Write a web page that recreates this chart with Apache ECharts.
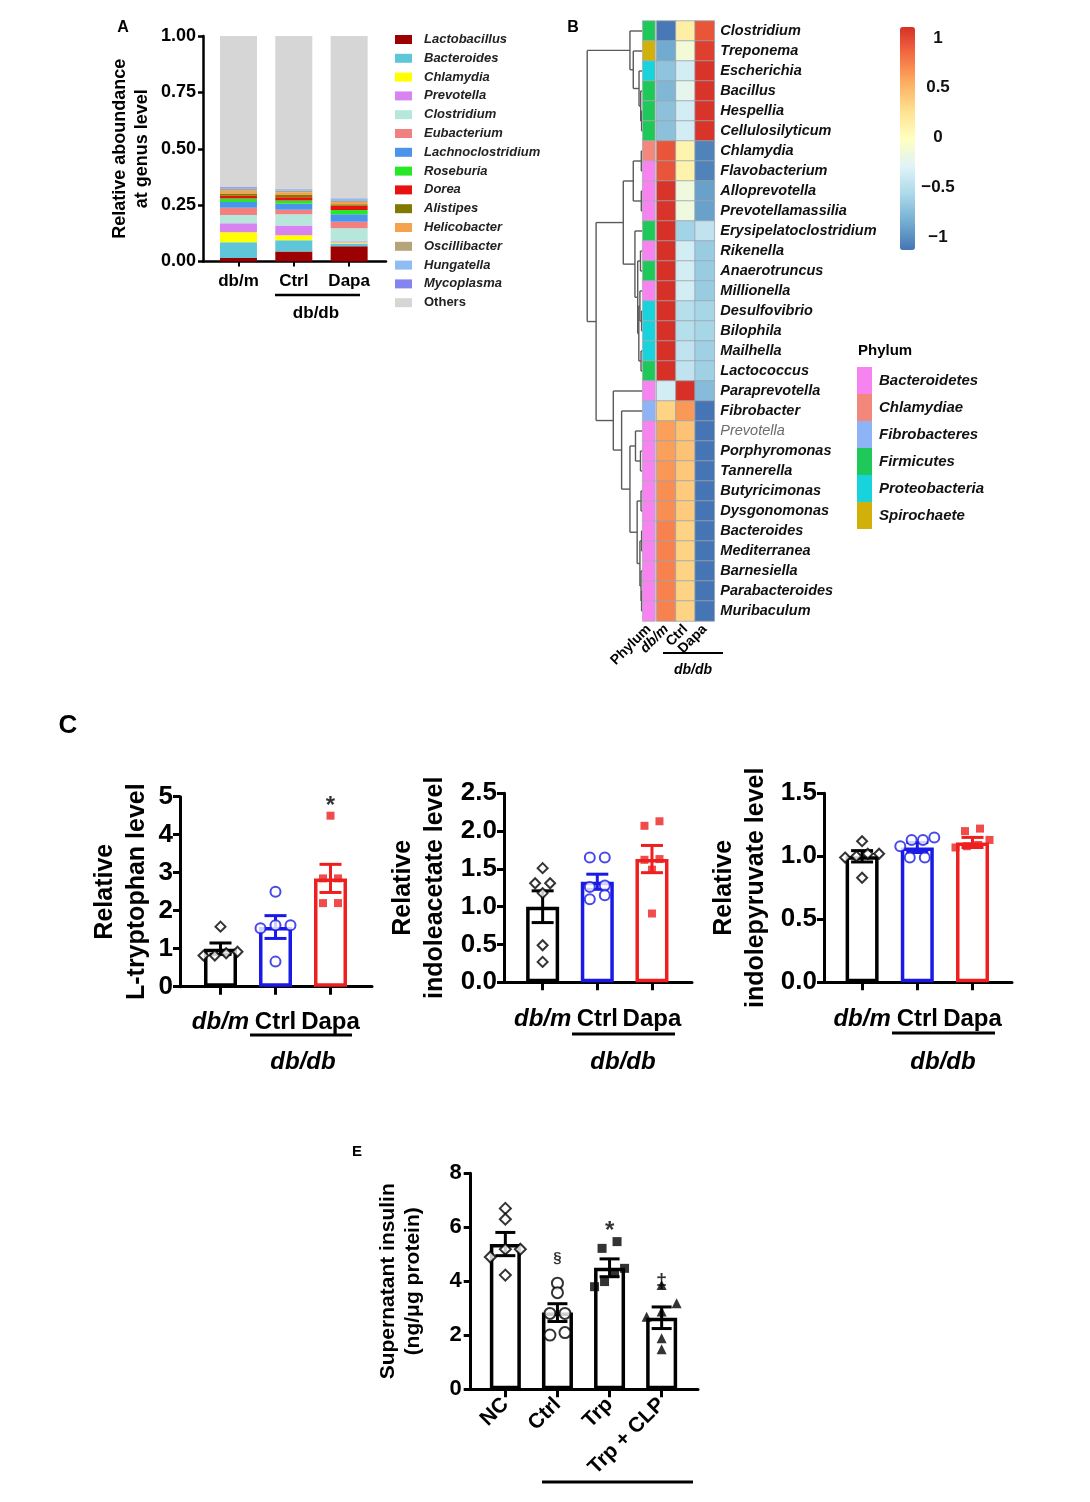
<!DOCTYPE html>
<html><head><meta charset="utf-8">
<script src="https://cdn.jsdelivr.net/npm/echarts@6/dist/echarts.min.js"></script>
<style>html,body{margin:0;padding:0;background:#fff}#c{width:1090px;height:1502px}</style>
</head><body><div id="c"></div>
<script>
// ================= DATA =================
// Panel A : stacked relative abundance
const abCategories = ['db/m', 'Ctrl', 'Dapa'];
const genusNames = ['Lactobacillus','Bacteroides','Chlamydia','Prevotella','Clostridium','Eubacterium','Lachnoclostridium','Roseburia','Dorea','Alistipes','Helicobacter','Oscillibacter','Hungatella','Mycoplasma','Others'];
const genusColors = ['#9c0000','#5ec6d8','#ffff00','#d884f0','#b5e8da','#f28080','#4a94ec','#27e827','#e81010','#807a00','#f5a24d','#b5a47a','#8fbcf2','#8484f0','#d6d6d6'];
const abund_dbm  = [0.015,0.070,0.045,0.040,0.036,0.032,0.026,0.015,0.013,0.009,0.013,0.007,0.006,0.003,0.670];
const abund_ctrl = [0.044,0.050,0.022,0.044,0.049,0.020,0.027,0.015,0.014,0.010,0.012,0.007,0.006,0.003,0.677];
const abund_dapa = [0.068,0.012,0.004,0.006,0.058,0.028,0.034,0.018,0.019,0.007,0.010,0.004,0.010,0.003,0.719];

// Panel B : heatmap
const heatGroups = ['db/m', 'Ctrl', 'Dapa'];
const heatGenera = ['Clostridium','Treponema','Escherichia','Bacillus','Hespellia','Cellulosilyticum','Chlamydia','Flavobacterium','Alloprevotella','Prevotellamassilia','Erysipelatoclostridium','Rikenella','Anaerotruncus','Millionella','Desulfovibrio','Bilophila','Mailhella','Lactococcus','Paraprevotella','Fibrobacter','Prevotella','Porphyromonas','Tannerella','Butyricimonas','Dysgonomonas','Bacteroides','Mediterranea','Barnesiella','Parabacteroides','Muribaculum'];
const heat_dbm  = [-1.10,-0.85,-0.70,-0.78,-0.72,-0.72,0.95,0.95,1.10,1.10,1.15,1.15,1.15,1.15,1.15,1.15,1.15,1.15,-0.35,0.35,0.62,0.62,0.66,0.70,0.70,0.75,0.75,0.75,0.75,0.75];
const heat_ctrl = [0.15,-0.12,-0.35,-0.22,-0.35,-0.35,0.10,0.12,-0.15,-0.15,-0.60,-0.35,-0.35,-0.35,-0.50,-0.50,-0.45,-0.45,1.15,0.65,0.45,0.45,0.42,0.40,0.40,0.35,0.35,0.35,0.35,0.35];
const heat_dapa = [0.95,1.05,1.10,1.10,1.10,1.10,-1.05,-1.05,-0.90,-0.90,-0.45,-0.65,-0.65,-0.65,-0.58,-0.58,-0.62,-0.62,-0.75,-1.12,-1.12,-1.12,-1.12,-1.12,-1.12,-1.12,-1.12,-1.12,-1.12,-1.12];
const phylumNames = ['Bacteroidetes','Chlamydiae','Fibrobacteres','Firmicutes','Proteobacteria','Spirochaete'];
const phylumColors = ['#f783f0','#f4877c','#8fb3f7','#1ec95a','#19d3dc','#d1b00a'];
const genusPhylum = ['Firmicutes','Spirochaete','Proteobacteria','Firmicutes','Firmicutes','Firmicutes','Chlamydiae','Bacteroidetes','Bacteroidetes','Bacteroidetes','Firmicutes','Bacteroidetes','Firmicutes','Bacteroidetes','Proteobacteria','Proteobacteria','Proteobacteria','Firmicutes','Bacteroidetes','Fibrobacteres','Bacteroidetes','Bacteroidetes','Bacteroidetes','Bacteroidetes','Bacteroidetes','Bacteroidetes','Bacteroidetes','Bacteroidetes','Bacteroidetes','Bacteroidetes'];
// dendrogram merges: [height, left, right]; leaves are row indices
const dendroTree = [1.0,
  [0.23, 0, [0.17, 1, [0.066, 2, [0.036, 3, [0.02, 4, 5]]]]],
  [0.84,
    [0.35, [0.17, [0.025, 6, 7], [0.025, 8, 9]],
           [0.14, 10, [0.09, [0.04, 11, 12], [0.07, [0.05, 13, [0.02, 14, 15]], [0.03, 16, 17]]]]],
    [0.53, 18, [0.38, 19, [0.23, [0.13, 20, [0.04, 21, 22]], [0.10, [0.03, 23, 24], [0.05, [0.02, 25, 26], [0.03, 27, [0.02, 28, 29]]]]]]]
  ]
];

// Panel C : metabolites
const metGroups = ['db/m', 'Ctrl', 'Dapa'];
const trpMean = [1.00, 1.57, 2.85];
const trpSem  = [0.15, 0.30, 0.37];
const trpDbm  = [1.58, 0.82, 0.88, 0.82, 0.92];
const trpCtrl = [2.50, 1.62, 1.54, 1.62, 0.66];
const trpDapa = [4.50, 2.85, 2.85, 2.20, 2.20];
const trpSig  = ['', '', '*'];
const trpSigY = [null, null, 4.75];

const iaaMean = [1.00, 1.33, 1.63];
const iaaSem  = [0.21, 0.10, 0.18];
const iaaDbm  = [1.51, 1.31, 1.31, 1.18, 0.49, 0.27];
const iaaCtrl = [1.65, 1.65, 1.28, 1.26, 1.15, 1.10];
const iaaDapa = [2.07, 2.13, 1.63, 1.62, 1.49, 0.91];

const ipaMean = [1.00, 1.07, 1.11];
const ipaSem  = [0.045, 0.04, 0.04];
const ipaDbm  = [1.12, 1.02, 1.02, 1.00, 0.99, 0.83];
const ipaCtrl = [1.15, 1.13, 1.13, 1.08, 0.99, 0.99];
const ipaDapa = [1.20, 1.22, 1.13, 1.09, 1.07, 1.08];

// Panel E : insulin
const insGroups = ['NC', 'Ctrl', 'Trp', 'Trp + CLP'];
const insMean = [5.38, 2.84, 4.50, 2.65];
const insSem  = [0.43, 0.33, 0.33, 0.40];
const insNC   = [6.70, 6.30, 5.19, 5.19, 4.90, 4.23];
const insCtrl = [3.93, 3.58, 2.81, 2.81, 2.01, 2.10];
const insTrp  = [5.22, 5.47, 3.80, 3.99, 4.48, 4.30];
const insCLP  = [3.86, 3.19, 2.88, 2.69, 1.89, 1.48];
const insSig  = ['', '§', '*', '‡'];
const insSigY = [null, 4.85, 5.85, 3.95];

// ================= BUILD =================
const FONT = '"Liberation Sans", Arial, Helvetica, sans-serif';
const grids = [], xAxes = [], yAxes = [], series = [], graphics = [];

function swarm(vals, thr, d, maxSpan) {
  const idx = vals.map((v, i) => i).sort((a, b) => vals[a] - vals[b]);
  const off = new Array(vals.length).fill(0);
  let cl = [idx[0]];
  const flush = () => {
    const n = cl.length;
    const step = (n - 1) * d > maxSpan ? maxSpan / (n - 1) : d;
    cl.forEach((k, j) => { off[k] = (j - (n - 1) / 2) * step; });
  };
  for (let j = 1; j < idx.length; j++) {
    if (vals[idx[j]] - vals[idx[j - 1]] < thr) cl.push(idx[j]);
    else { flush(); cl = [idx[j]]; }
  }
  flush();
  return off;
}

function barPanel(o) {
  const gi = grids.length;
  const h = o.y0 - o.yTop;
  grids.push({ left: o.axisX, top: o.yTop, width: o.axisEnd - o.axisX, height: h });
  grids.push({ left: o.dataLeft, top: o.yTop, width: o.dataWidth, height: h });
  xAxes.push({ gridIndex: gi, type: 'value', min: 0, max: 1, axisLine: { show: true, lineStyle: { color: '#000', width: o.lw } }, axisTick: { show: false }, axisLabel: { show: false }, splitLine: { show: false } });
  const dx = xAxes.length;
  xAxes.push({ gridIndex: gi + 1, type: 'category', data: o.cats, axisLine: { show: false },
    axisTick: { show: true, alignWithLabel: true, length: o.xTick, lineStyle: { color: '#000', width: o.lw } },
    axisLabel: Object.assign({ interval: 0, hideOverlap: false, color: '#000', fontFamily: FONT, fontWeight: 'bold', fontSize: o.xFont, margin: o.xMargin }, o.xLabelExtra || {}) });
  yAxes.push({ gridIndex: gi, type: 'value', min: o.yMin, max: o.yMax, interval: o.yInt,
    axisLine: { show: true, lineStyle: { color: '#000', width: o.lw } },
    axisTick: { show: true, length: o.yTick, lineStyle: { color: '#000', width: o.lw } },
    axisLabel: { color: '#000', fontFamily: FONT, fontWeight: 'bold', fontSize: o.yFont, margin: o.yMargin, formatter: o.yFmt },
    splitLine: { show: false },
    name: o.name, nameLocation: 'middle', nameRotate: 90, nameGap: o.nameGap,
    nameTextStyle: { color: '#000', fontFamily: FONT, fontWeight: 'bold', fontSize: o.nameFont, lineHeight: o.nameLH } });
  const dy = yAxes.length;
  yAxes.push({ gridIndex: gi + 1, type: 'value', min: o.yMin, max: o.yMax, show: false });

  series.push({ type: 'bar', xAxisIndex: dx, yAxisIndex: dy, barWidth: o.barW, z: 2,
    data: o.means.map((m, i) => ({ value: m, itemStyle: { color: 'rgba(255,255,255,0)', borderColor: o.colors[i], borderWidth: o.barBorder } })),
    emphasis: { disabled: true } });
  series.push({ type: 'custom', xAxisIndex: dx, yAxisIndex: dy, z: 4,
    data: o.means.map((m, i) => [i, m, o.sems[i]]),
    encode: { x: 0, y: 1 },
    renderItem: function (params, api) {
      const i = api.value(0), m = api.value(1), s = api.value(2);
      const top = api.coord([i, m + s]), bot = api.coord([i, m - s]);
      const hw = o.capW / 2, c = o.colors[i];
      const st = { stroke: c, lineWidth: o.errW };
      return { type: 'group', children: [
        { type: 'line', shape: { x1: top[0], y1: top[1], x2: bot[0], y2: bot[1] }, style: st },
        { type: 'line', shape: { x1: top[0] - hw, y1: top[1], x2: top[0] + hw, y2: top[1] }, style: st },
        { type: 'line', shape: { x1: bot[0] - hw, y1: bot[1], x2: bot[0] + hw, y2: bot[1] }, style: st }
      ] };
    } });
  const pts = [];
  const thr = (o.yMax - o.yMin) * 0.04;
  o.points.forEach((arr, i) => {
    const off = swarm(arr, thr, o.spread, o.maxSpan);
    arr.forEach((v, j) => {
      pts.push({ value: [i, v], symbol: o.symbols[i], symbolSize: o.symSizes[i], symbolOffset: [off[j], 0],
        itemStyle: o.hollow[i] ? { color: '#fff', borderColor: o.colors[i], borderWidth: o.symBorder } : { color: o.colors[i], borderWidth: 0 } });
    });
  });
  series.push({ type: 'scatter', xAxisIndex: dx, yAxisIndex: dy, z: 5, data: pts, emphasis: { disabled: true } });
  if (o.sig) {
    const sd = [];
    o.sig.forEach((t, i) => { if (t) sd.push({ value: [i, o.sigY[i]], label: { formatter: t, fontSize: o.sigFont[i] } }); });
    series.push({ type: 'scatter', xAxisIndex: dx, yAxisIndex: dy, z: 6, symbolSize: 0, data: sd,
      label: { show: true, position: 'inside', color: '#000', fontFamily: FONT, fontWeight: 'bold' }, emphasis: { disabled: true } });
  }
}

// ---------- Panel A ----------
grids.push({ left: 203, top: 36, width: 183, height: 225.5 });
grids.push({ left: 210.8, top: 36, width: 166, height: 225.5 });
xAxes.push({ gridIndex: 0, type: 'value', min: 0, max: 1, axisLine: { show: true, lineStyle: { color: '#000', width: 2.5 } }, axisTick: { show: false }, axisLabel: { show: false }, splitLine: { show: false } });
xAxes.push({ gridIndex: 1, type: 'category', data: abCategories, axisLine: { show: false },
  axisTick: { show: true, alignWithLabel: true, length: 5, lineStyle: { color: '#000', width: 2 } },
  axisLabel: { interval: 0, color: '#000', fontFamily: FONT, fontWeight: 'bold', fontSize: 17, margin: 11 } });
yAxes.push({ gridIndex: 0, type: 'value', min: 0, max: 1, interval: 0.25,
  axisLine: { show: true, lineStyle: { color: '#000', width: 2.5 } },
  axisTick: { show: true, length: 5, lineStyle: { color: '#000', width: 2.5 } },
  axisLabel: { color: '#000', fontFamily: FONT, fontWeight: 'bold', fontSize: 18, margin: 7, formatter: v => v.toFixed(2) },
  splitLine: { show: false },
  name: 'Relative aboundance\nat genus level', nameLocation: 'middle', nameRotate: 90, nameGap: 50,
  nameTextStyle: { color: '#000', fontFamily: FONT, fontWeight: 'bold', fontSize: 18, lineHeight: 22 } });
yAxes.push({ gridIndex: 1, type: 'value', min: 0, max: 1, show: false });
genusNames.forEach((g, i) => {
  series.push({ type: 'bar', name: g, stack: 'ab', xAxisIndex: 1, yAxisIndex: 1, barWidth: 37,
    itemStyle: { color: genusColors[i] }, emphasis: { disabled: true },
    data: [abund_dbm[i], abund_ctrl[i], abund_dapa[i]] });
});

// ---------- Panel B ----------
const dGrid = grids.length;
grids.push({ left: 585, top: 21, width: 57.7, height: 600 });
const pGrid = grids.length;
grids.push({ left: 642.7, top: 21, width: 12.3, height: 600 });
const hGrid = grids.length;
grids.push({ left: 656.7, top: 21, width: 57.6, height: 600 });
const cbGrid = grids.length;
grids.push({ left: 900, top: 38, width: 15, height: 199 });

const dX = xAxes.length; xAxes.push({ gridIndex: dGrid, type: 'value', min: 0, max: 1.04, inverse: true, show: false });
const dY = yAxes.length; yAxes.push({ gridIndex: dGrid, type: 'value', min: -0.5, max: heatGenera.length - 0.5, inverse: true, show: false });
const pX = xAxes.length; xAxes.push({ gridIndex: pGrid, type: 'category', data: ['Phylum'], axisLine: { show: false }, axisTick: { show: false },
  axisLabel: { interval: 0, rotate: 45, margin: 6, color: '#000', fontFamily: FONT, fontWeight: 'bold', fontSize: 14 } });
const pY = yAxes.length; yAxes.push({ gridIndex: pGrid, type: 'category', data: heatGenera, inverse: true, show: false });
const hX = xAxes.length; xAxes.push({ gridIndex: hGrid, type: 'category', data: [{ value: heatGroups[0], textStyle: { fontStyle: 'italic' } }, heatGroups[1], heatGroups[2]],
  axisLine: { show: false }, axisTick: { show: false },
  axisLabel: { interval: 0, rotate: 45, margin: 6, color: '#000', fontFamily: FONT, fontWeight: 'bold', fontSize: 14 } });
const hY = yAxes.length; yAxes.push({ gridIndex: hGrid, type: 'category', position: 'right', inverse: true,
  data: heatGenera.map(g => g === 'Prevotella' ? { value: g, textStyle: { color: '#6b6b6b', fontWeight: 'normal' } } : g),
  axisLine: { show: false }, axisTick: { show: false },
  axisLabel: { interval: 0, margin: 6, color: '#111', fontFamily: FONT, fontWeight: 'bold', fontStyle: 'italic', fontSize: 14.5, padding: [0, 0, 3, 0] } });
const cbX = xAxes.length; xAxes.push({ gridIndex: cbGrid, type: 'value', show: false, min: 0, max: 1 });
const cbY = yAxes.length; yAxes.push({ gridIndex: cbGrid, type: 'value', position: 'right', min: -1, max: 1, interval: 0.5,
  axisLine: { show: false }, axisTick: { show: false }, splitLine: { show: false },
  axisLabel: { margin: 23, align: 'center', color: '#111', fontFamily: FONT, fontWeight: 'bold', fontSize: 17,
    formatter: v => String(v).replace('-', '\u2212') } });

const dendroSegs = [];
function walk(node) {
  if (typeof node === 'number') return { h: 0, y: node };
  const a = walk(node[1]), b = walk(node[2]);
  const h = node[0];
  dendroSegs.push([a.h, a.y, h, a.y]);
  dendroSegs.push([b.h, b.y, h, b.y]);
  dendroSegs.push([h, a.y, h, b.y]);
  return { h: h, y: (a.y + b.y) / 2 };
}
walk(dendroTree);
series.push({ type: 'custom', xAxisIndex: dX, yAxisIndex: dY, data: dendroSegs, encode: { x: [0, 2], y: [1, 3] },
  renderItem: function (params, api) {
    const p1 = api.coord([api.value(0), api.value(1)]), p2 = api.coord([api.value(2), api.value(3)]);
    return { type: 'line', shape: { x1: p1[0], y1: p1[1], x2: p2[0], y2: p2[1] }, style: { stroke: '#5a5a5a', lineWidth: 1.4 } };
  } });

const phylumSeries = series.length;
series.push({ type: 'heatmap', xAxisIndex: pX, yAxisIndex: pY, emphasis: { disabled: true },
  itemStyle: { borderColor: '#a9adb3', borderWidth: 0.8 },
  data: genusPhylum.map((p, r) => [0, r, phylumNames.indexOf(p)]) });
const heatSeries = series.length;
const heatData = [];
heatGenera.forEach((g, r) => { heatData.push([0, r, heat_dbm[r]], [1, r, heat_ctrl[r]], [2, r, heat_dapa[r]]); });
series.push({ type: 'heatmap', xAxisIndex: hX, yAxisIndex: hY, emphasis: { disabled: true },
  itemStyle: { borderColor: '#9aa4b0', borderWidth: 0.8 }, data: heatData });
series.push({ type: 'scatter', xAxisIndex: cbX, yAxisIndex: cbY, data: [], silent: true });

// ---------- Panel C ----------
const cCommon = { lw: 3, xTick: 8, yTick: 7, xFont: 24, yFont: 26, yMargin: 7, nameFont: 25, nameLH: 32,
  barW: 33, barBorder: 3.5, capW: 22, errW: 3, spread: 15, maxSpan: 34, symBorder: 2,
  colors: ['#000000', '#1a1ae6', '#ee1f1f'], symbols: ['diamond', 'circle', 'rect'], symSizes: [10, 10, 8], hollow: [true, true, false],
  cats: [{ value: metGroups[0], textStyle: { fontStyle: 'italic' } }, metGroups[1], metGroups[2]] };
barPanel(Object.assign({}, cCommon, { axisX: 180, axisEnd: 372, yTop: 796.7, y0: 986.7, dataLeft: 193, dataWidth: 165,
  yMin: 0, yMax: 5, yInt: 1, yFmt: v => String(v), name: 'Relative\nL-tryptophan level', nameGap: 27, xMargin: 24,
  means: trpMean, sems: trpSem, points: [trpDbm, trpCtrl, trpDapa], sig: trpSig, sigY: trpSigY, sigFont: [0, 0, 24] }));
barPanel(Object.assign({}, cCommon, { axisX: 504, axisEnd: 692, yTop: 793.3, y0: 982.3, dataLeft: 515.3, dataWidth: 164,
  yMin: 0, yMax: 2.5, yInt: 0.5, yFmt: v => v.toFixed(1), name: 'Relative\nindoleacetate level', nameGap: 53, xMargin: 25,
  means: iaaMean, sems: iaaSem, points: [iaaDbm, iaaCtrl, iaaDapa] }));
barPanel(Object.assign({}, cCommon, { axisX: 824, axisEnd: 1012, yTop: 793.3, y0: 982.3, dataLeft: 834.5, dataWidth: 165.6,
  yMin: 0, yMax: 1.5, yInt: 0.5, yFmt: v => v.toFixed(1), name: 'Relative\nindolepyruvate level', nameGap: 52, xMargin: 25,
  means: ipaMean, sems: ipaSem, points: [ipaDbm, ipaCtrl, ipaDapa] }));

// ---------- Panel E ----------
barPanel({ lw: 3, xTick: 8, yTick: 7, xFont: 21, yFont: 22, yMargin: 9, nameFont: 21, nameLH: 25,
  barW: 31, barBorder: 3.5, capW: 20, errW: 3, spread: 15, maxSpan: 30, symBorder: 2,
  colors: ['#000', '#000', '#000', '#000'], symbols: ['diamond', 'circle', 'rect', 'triangle'], symSizes: [11, 11, 9, 10], hollow: [true, true, false, false],
  cats: insGroups, xLabelExtra: { rotate: 45 }, xMargin: 12,
  axisX: 470.7, axisEnd: 698, yTop: 1173.3, y0: 1389.3, dataLeft: 479.3, dataWidth: 208.4,
  yMin: 0, yMax: 8, yInt: 2, yFmt: v => String(v), name: 'Supernatant insulin\n(ng/\u03bcg protein)', nameGap: 45,
  means: insMean, sems: insSem, points: [insNC, insCtrl, insTrp, insCLP], sig: insSig, sigY: insSigY, sigFont: [0, 15, 24, 20] });

// ---------- annotations ----------
function txt(x, y, t, font, align) {
  graphics.push({ type: 'text', x: x, y: y, silent: true, style: { text: t, font: font, fill: '#000', align: align || 'center', verticalAlign: 'middle' } });
}
function ln(x1, y1, x2, y2, w) {
  graphics.push({ type: 'line', silent: true, shape: { x1: x1, y1: y1, x2: x2, y2: y2 }, style: { stroke: '#000', lineWidth: w } });
}
txt(123, 28, 'A', 'bold 16px ' + FONT);
txt(573, 28, 'B', 'bold 16px ' + FONT);
txt(68, 726, 'C', 'bold 26px ' + FONT);
txt(357, 1152, 'E', 'bold 15px ' + FONT);
ln(275, 295, 360, 295, 2.5); txt(316, 313, 'db/db', 'bold 17px ' + FONT);
ln(663, 653, 723, 653, 2); txt(693, 670, 'db/db', 'italic bold 14px ' + FONT);
ln(250, 1035, 352, 1035, 3); txt(303, 1062, 'db/db', 'italic bold 24px ' + FONT);
ln(572, 1034, 675, 1034, 3); txt(623, 1062, 'db/db', 'italic bold 24px ' + FONT);
ln(892, 1033, 995, 1033, 3); txt(943, 1062, 'db/db', 'italic bold 24px ' + FONT);
ln(542, 1482, 693, 1482, 3);
txt(858, 351, 'Phylum', 'bold 15px ' + FONT, 'left');

const chart = echarts.init(document.getElementById('c'));
chart.setOption({
  animation: false,
  backgroundColor: '#fff',
  textStyle: { fontFamily: FONT },
  grid: grids, xAxis: xAxes, yAxis: yAxes, series: series,
  legend: { orient: 'vertical', left: 395, top: 33, padding: 0, itemWidth: 17, itemHeight: 9, itemGap: 5.8, icon: 'rect', selectedMode: false,
    data: genusNames.map(n => n === 'Others' ? { name: n, textStyle: { fontStyle: 'normal' } } : n),
    textStyle: { fontFamily: FONT, fontSize: 13, fontWeight: 'bold', fontStyle: 'italic', color: '#222', padding: [0, 0, 0, 7] } },
  visualMap: [
    { type: 'continuous', seriesIndex: heatSeries, min: -1.12, max: 1.12, left: 900, top: 27, itemWidth: 15, itemHeight: 223, padding: 0,
      calculable: false, hoverLink: false, orient: 'vertical',
      inRange: { color: ['#4575b4', '#74add1', '#abd9e9', '#e0f3f8', '#ffffbf', '#fee090', '#fdae61', '#f46d43', '#d73027'] } },
    { type: 'piecewise', seriesIndex: phylumSeries, left: 857, top: 367, itemWidth: 15, itemHeight: 27, itemGap: 0, textGap: 7, padding: 0,
      align: 'left', itemSymbol: 'rect', orient: 'vertical', inverse: true, selectedMode: false, hoverLink: false,
      pieces: phylumNames.map((n, i) => ({ value: i, label: n, color: phylumColors[i] })),
      textStyle: { fontFamily: FONT, fontSize: 15, fontWeight: 'bold', fontStyle: 'italic', color: '#111' } }
  ],
  graphic: graphics
});
</script></body></html>
